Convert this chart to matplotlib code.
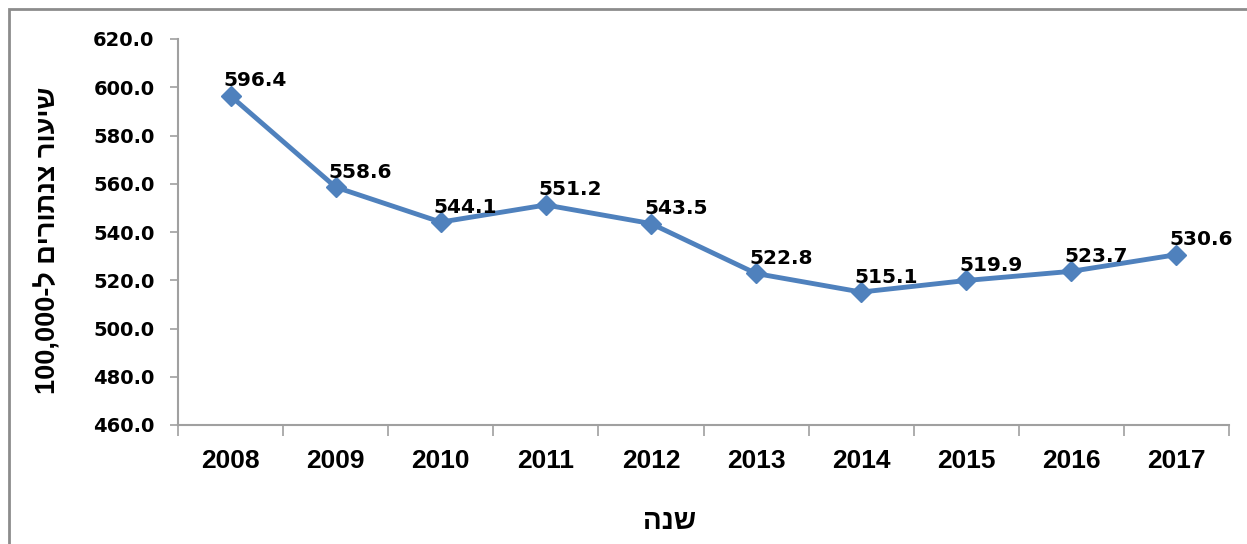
import matplotlib
matplotlib.use("Agg")
import matplotlib.pyplot as plt
from matplotlib.patches import Rectangle

years = ["2008", "2009", "2010", "2011", "2012", "2013", "2014", "2015", "2016", "2017"]
values = [596.4, 558.6, 544.1, 551.2, 543.5, 522.8, 515.1, 519.9, 523.7, 530.6]
yticks = [460, 480, 500, 520, 540, 560, 580, 600, 620]
ylabel = "100,000-ל םירותנצ רועיש"   # visual order of "שיעור צנתורים ל-100,000"
xlabel = "הנש"                       # visual order of "שנה"

fig = plt.figure(figsize=(12.47, 5.44), dpi=100)
fig.patches.append(Rectangle((9/1247, -0.1), 1.2, (544-9)/544 + 0.1, transform=fig.transFigure,
                             fill=False, edgecolor="#8C8C8C", linewidth=2.0))
ax = fig.add_axes([178/1247, 1-425/544, (1229-178)/1247, (425-39)/544])

x = list(range(len(years)))
color = "#4F81BD"
ax.plot(x, values, color=color, linewidth=3.5, marker="D", markersize=10,
        markerfacecolor=color, markeredgecolor=color, zorder=3, clip_on=False)

for xi, v in zip(x, values):
    ax.annotate(f"{v:.1f}", (xi, v), xytext=(-5, 4), textcoords="offset points",
                ha="left", va="bottom", fontsize=14.5, fontweight="bold",
                family="DejaVu Sans", color="black", zorder=4)

ax.set_xlim(-0.5, len(years) - 0.5)
ax.set_ylim(460, 620)
ax.set_yticks(yticks)
ax.set_yticklabels([f"{t:.1f}" for t in yticks], fontsize=14, fontweight="bold", family="DejaVu Sans")
ax.set_xticks(x)
ax.set_xticklabels(years, fontsize=19, fontweight="bold", family="Liberation Sans")
ax.set_xticks([i - 0.5 for i in range(len(years) + 1)], minor=True)
ax.tick_params(axis="x", which="major", length=0, pad=17)
ax.tick_params(axis="x", which="minor", length=8, width=1.2, color="#A0A0A0", direction="out")
ax.tick_params(axis="y", length=6, width=1.2, color="#A0A0A0", direction="out", pad=11)

for s in ["top", "right"]:
    ax.spines[s].set_visible(False)
for s in ["left", "bottom"]:
    ax.spines[s].set_color("#A0A0A0")
    ax.spines[s].set_linewidth(1.5)

fig.text(48/1247, 1-240/544, ylabel, rotation=90, ha="center", va="center",
         fontsize=19.5, fontweight="bold", family="Liberation Sans")
fig.text(670/1247, 1-522/544, xlabel, ha="center", va="center",
         fontsize=20, fontweight="bold", family="Liberation Sans")

fig.savefig("out.png", dpi=100)
